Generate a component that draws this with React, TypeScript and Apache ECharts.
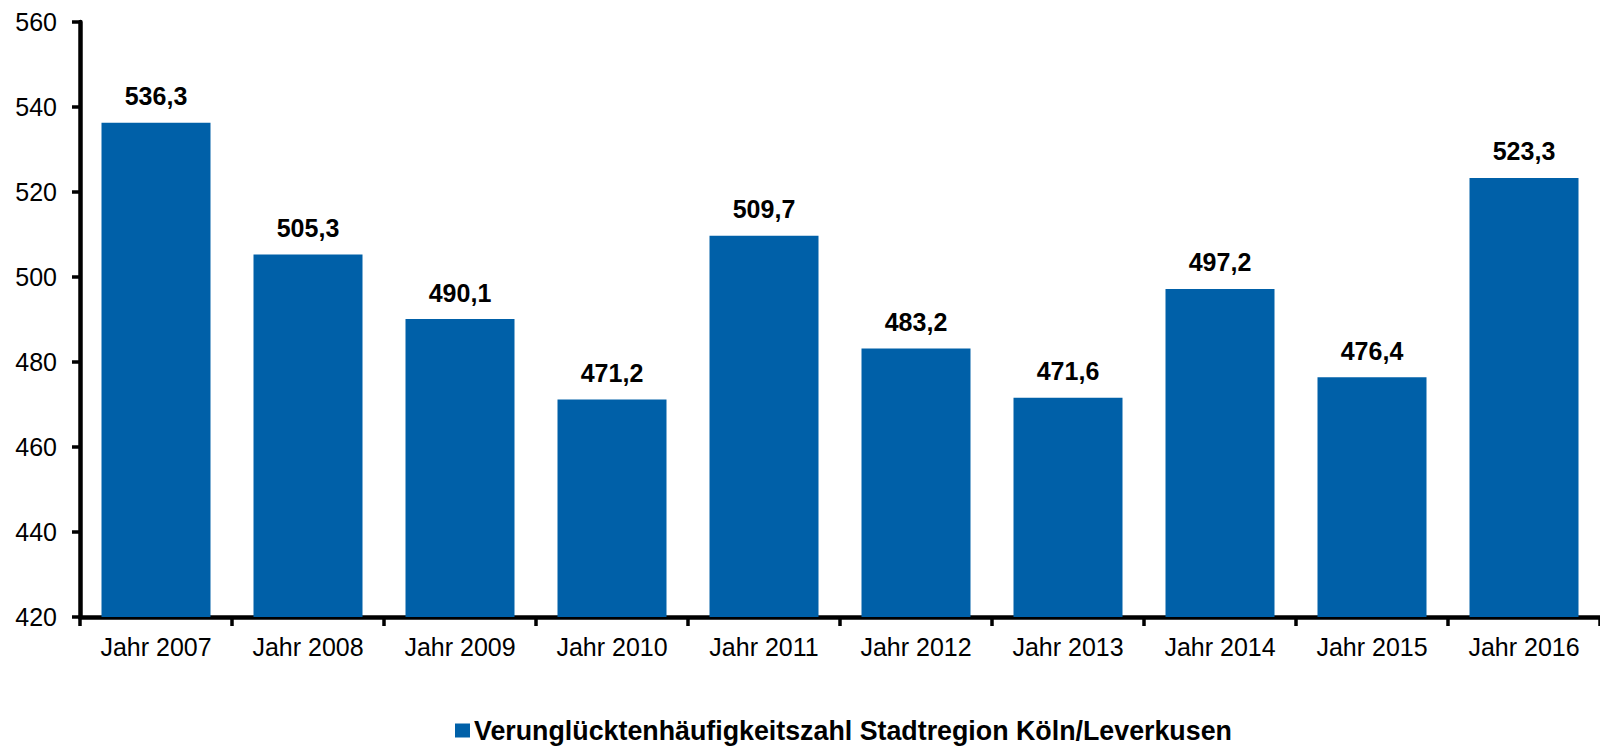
import React, { useEffect, useRef } from "react";
import * as echarts from "echarts";

const categories = [
  "Jahr 2007", "Jahr 2008", "Jahr 2009", "Jahr 2010", "Jahr 2011",
  "Jahr 2012", "Jahr 2013", "Jahr 2014", "Jahr 2015", "Jahr 2016",
];
const values = [536.3, 505.3, 490.1, 471.2, 509.7, 483.2, 471.6, 497.2, 476.4, 523.3];
const seriesName = "Verunglücktenhäufigkeitszahl Stadtregion Köln/Leverkusen";
const yMin = 420;
const yMax = 560;
const yStep = 20;

const FONT = "Arial, 'Liberation Sans', sans-serif";

export default function App() {
  const ref = useRef<HTMLDivElement>(null);
  useEffect(() => {
    if (!ref.current) return;
    const chart = echarts.init(ref.current, null, { renderer: "svg" });
    chart.setOption({
      animation: false,
      backgroundColor: "#ffffff",
      grid: { left: 80, right: -3, top: 22, bottom: 129, containLabel: false },
      legend: {
        left: 455,
        top: 717,
        padding: 0,
        itemWidth: 15,
        itemHeight: 14,
        itemGap: 10,
        icon: "rect",
        textStyle: { fontFamily: FONT, fontSize: 26.8, fontWeight: "bold", color: "#000", padding: [0, 0, 0, -1] },
        data: [seriesName],
      },
      xAxis: {
        type: "category",
        data: categories,
        axisLine: { show: true, lineStyle: { color: "#000", width: 4.5 } },
        axisTick: { show: true, length: 9, lineStyle: { color: "#000", width: 3.5 } },
        axisLabel: { fontFamily: FONT, fontSize: 25, color: "#000", margin: 17 },
        splitLine: { show: false },
      },
      yAxis: {
        type: "value",
        min: yMin,
        max: yMax,
        interval: yStep,
        axisLine: { show: true, lineStyle: { color: "#000", width: 4.5 } },
        axisTick: { show: true, length: 8, lineStyle: { color: "#000", width: 3.5 } },
        axisLabel: { fontFamily: FONT, fontSize: 25, color: "#000", margin: 23 },
        splitLine: { show: false },
      },
      series: [
        {
          name: seriesName,
          type: "bar",
          data: values,
          barWidth: 109,
          itemStyle: { color: "#0060a8" },
          label: {
            show: true,
            position: "top",
            distance: 14,
            fontFamily: FONT,
            fontSize: 25,
            fontWeight: "bold",
            color: "#000",
            formatter: (p: any) => Number(p.value).toFixed(1).replace(".", ","),
          },
        },
      ],
    });
    return () => chart.dispose();
  }, []);
  return (
    <div
      ref={ref}
      style={{ position: "fixed", left: 0, top: 0, width: 1600, height: 746 }}
    />
  );
}
